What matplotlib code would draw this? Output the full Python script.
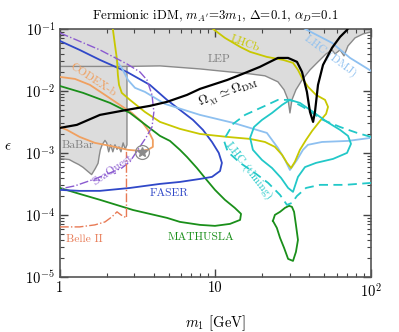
import matplotlib
matplotlib.use('Agg')
import matplotlib.pyplot as plt
from matplotlib.ticker import FixedLocator, FixedFormatter, LogLocator, NullFormatter

plt.rcParams['mathtext.fontset'] = 'cm'
plt.rcParams['font.family'] = 'serif'
plt.rcParams['font.serif'] = ['cmr10', 'DejaVu Serif']
plt.rcParams['axes.unicode_minus'] = False
plt.rcParams['axes.formatter.use_mathtext'] = True

# ---- data (m1 in GeV, epsilon) ----
lep_m = [1, 2.7, 4.4, 7.95, 12.4, 16.7, 20.8, 25.2, 27.6, 29.3, 30.1, 31.0, 32.9, 36.0,
         40.5, 45.6, 51.4, 56.1, 58.7, 63.2, 67.0, 71.1, 78.9, 88.9, 100]
lep_eps = [0.0248, 0.0248, 0.0253, 0.0226, 0.0202, 0.0188, 0.0175, 0.0140, 0.0104, 0.00716,
           0.00441, 0.00716, 0.0104, 0.0150, 0.0218, 0.0294, 0.0395, 0.0458, 0.0395, 0.0458,
           0.0367, 0.0532, 0.0716, 0.083, 0.0895]

babar_m = [2.7, 2.7, 2.63, 2.55, 2.47, 2.40, 2.33, 2.26, 2.19, 2.12, 2.06, 2.00, 1.95, 1.87,
           1.82, 1.79, 1.76, 1.69, 1.60, 1.50, 1.41, 1.32, 1.23, 1.15, 1.0]
babar_eps = [0.0248, 0.00135, 0.00114, 0.00145, 0.00104, 0.00125, 0.00114, 0.00135, 0.00104,
             0.00135, 0.00104, 0.00145, 0.00159, 0.00135, 0.00112, 0.00089, 0.00068, 0.00056,
             0.000447, 0.000512, 0.000585, 0.00065, 0.00071, 0.00078, 0.00081]

relic_m = [1, 1.286, 1.81, 2.70, 3.79, 4.88, 6.56, 7.95, 11.9, 15.5, 19.3, 22.4, 25.2, 29.3,
           33.4, 36.0, 38.7, 40.5, 42.4, 43.6, 45.6, 49.1, 56.1, 63.2, 70.1, 73.3]
relic_eps = [0.00253, 0.00283, 0.0041, 0.00494, 0.00573, 0.00665, 0.00861, 0.01077, 0.0150,
             0.0195, 0.0244, 0.0294, 0.034, 0.034, 0.0294, 0.0202, 0.00964, 0.00458, 0.00316,
             0.00458, 0.0125, 0.0262, 0.0494, 0.0743, 0.0963, 0.116]

lhcb_m = [2.19, 2.26, 2.33, 2.36, 2.40, 2.50, 2.82, 3.52, 4.40, 5.91, 7.95, 11.9, 16.7, 20.8,
          24.1, 26.8, 28.8, 30.6, 32.4, 34.9, 38.2, 41.8, 47.0, 51.4, 52.9, 50.6, 44.3, 39.4,
          36.0, 33.9, 31.5, 27.2, 21.4, 16.7, 14.4, 11.5, 9.64]
lhcb_eps = [0.1, 0.0552, 0.0316, 0.0181, 0.0125, 0.00929, 0.00716, 0.00458, 0.00316, 0.00244,
            0.00202, 0.00181, 0.00168, 0.00150, 0.00125, 0.00093, 0.00069, 0.00057, 0.00072,
            0.00112, 0.00162, 0.00226, 0.00328, 0.00426, 0.00552, 0.00716, 0.00861, 0.0116,
            0.0162, 0.0218, 0.0283, 0.0316, 0.0353, 0.0426, 0.0513, 0.0716, 0.1]

dmj1_m = [2.29, 2.33, 2.50, 2.74, 3.04, 3.52, 4.73, 7.95, 13.0, 21.4, 25.2, 28.0, 30.1, 33.4,
          36.5, 39.3, 48.4, 71.1, 100]
dmj1_eps = [0.0353, 0.0294, 0.0235, 0.0150, 0.0112, 0.00964, 0.00617, 0.0041, 0.00305, 0.0021,
            0.0012, 0.00077, 0.00053, 0.00077, 0.00112, 0.00135, 0.0015, 0.00156, 0.00175]
dmj2_m = [37.6, 56.1, 73.3, 100]
dmj2_eps = [0.1, 0.0595, 0.034, 0.021]

faser_m = [1, 1.34, 1.81, 2.70, 3.79, 4.88, 5.91, 7.17, 8.31, 9.50, 10.5, 11.0, 10.7, 9.50,
           7.95, 5.91, 4.40, 2.82, 1.81, 1.34, 1]
faser_eps = [0.064, 0.0458, 0.0316, 0.0202, 0.0125, 0.00716, 0.00494, 0.0034, 0.00235, 0.0015,
             0.001, 0.00069, 0.00051, 0.00041, 0.00038, 0.00034, 0.000316, 0.000272, 0.000244,
             0.000244, 0.000253]

math1_m = [1, 1.41, 2.10, 2.82, 3.63, 4.40, 5.10, 5.91, 6.56, 7.60, 8.56, 9.93, 11.5, 13.3,
           14.6, 14.4, 12.4, 9.93, 7.95, 5.91, 4.88, 2.95, 1.81, 1.34, 1]
math1_eps = [0.0120, 0.00929, 0.0064, 0.00441, 0.00272, 0.00188, 0.00156, 0.00112, 0.00086,
             0.00057, 0.000395, 0.000253, 0.000175, 0.00013, 0.000104, 8.3e-5, 7.16e-5, 6.65e-5,
             6.9e-5, 7.71e-5, 8.95e-5, 0.00012, 0.000175, 0.000218, 0.000272]
math2_m = [23.4, 24.1, 26.0, 28.0, 29.7, 31.0, 32.0, 32.9, 33.9, 32.9, 31.5, 29.3, 27.6, 26.0,
           24.8, 23.4]
math2_eps = [8.0e-5, 1e-4, 0.000112, 0.00013, 0.00014, 0.000135, 0.000112, 6.9e-5, 3.95e-5,
             2.53e-5, 1.81e-5, 1.95e-5, 2.94e-5, 4.26e-5, 6.17e-5, 8.0e-5]

codex_m = [1, 1.25, 1.56, 1.95, 2.43, 2.90, 3.37, 3.68, 3.96, 3.96, 3.68, 3.27, 2.74, 2.10,
           1.68, 1.34, 1.11, 1]
codex_eps = [0.0168, 0.0156, 0.0125, 0.00861, 0.00594, 0.00441, 0.00316, 0.00235, 0.00162,
             0.00125, 0.00112, 0.00108, 0.00112, 0.0013, 0.00145, 0.00181, 0.00235, 0.00262]

seaq_m = [1, 1.81, 2.70, 3.27, 3.63, 3.91, 4.02, 3.91, 3.57, 3.17, 2.82, 2.50, 2.10, 1.68,
          1.25, 1]
seaq_eps = [0.0862, 0.0458, 0.0272, 0.0202, 0.0150, 0.00861, 0.00458, 0.00262, 0.00175,
            0.00112, 0.00072, 0.00057, 0.000475, 0.00038, 0.000294, 0.000262]

belle_m = [1, 1.34, 1.68, 1.95, 2.16, 2.33, 2.47, 2.68, 2.68]
belle_eps = [6.4e-5, 6.4e-5, 6.9e-5, 7.7e-5, 9.3e-5, 0.000112, 0.000100, 8.95e-5, 0.00104]

tim_m = [30.1, 34.9, 42.4, 52.1, 63.2, 71.1, 74.3, 70.1, 57.0, 44.3, 37.6, 33.9, 31.5, 29.3,
         26.4, 23.1, 19.9, 17.4, 16.7, 17.7, 19.9, 23.1, 26.8, 30.1]
tim_eps = [0.00716, 0.0064, 0.00458, 0.00316, 0.00235, 0.00188, 0.0014, 0.001, 0.0008, 0.00069,
           0.00059, 0.00041, 0.000235, 0.000272, 0.000395, 0.00057, 0.00077, 0.00112, 0.00175,
           0.00262, 0.0034, 0.00441, 0.00594, 0.00716]

timd_m = [100, 81.3, 63.2, 49.1, 36.5, 30.1, 25.2, 20.8, 15.5, 13.0, 11.3, 12.0, 14.4, 17.9,
          21.8, 26.0, 28.8, 31.0, 33.4, 38.2, 47.0, 68.0, 100]
timd_eps = [0.00181, 0.0021, 0.00262, 0.0034, 0.00552, 0.00716, 0.00716, 0.00573, 0.0041,
            0.00294, 0.00162, 0.00104, 0.00069, 0.000475, 0.000328, 0.00021, 0.000145, 0.000156,
            0.000202, 0.000272, 0.000305, 0.000305, 0.000328]

star_m, star_eps = 3.35, 0.00104

# ---- plot ----
fig = plt.figure(figsize=(3.99, 3.32), dpi=100)
ax = fig.add_axes([0.150, 0.166, 0.780, 0.747])
ax.set_xscale('log')
ax.set_yscale('log')
ax.set_xlim(1, 100)
ax.set_ylim(1e-5, 1e-1)

grey_edge = '#8a8a8a'
# excluded region: top band (LEP) + BaBar on the left
top_m = lep_m[::-1][:-1]
top_eps = lep_eps[::-1][:-1]
poly_m = [1, 100] + top_m + babar_m + [1]
poly_eps = [1, 1] + top_eps + babar_eps + [1]
ax.fill(poly_m, poly_eps, color='#dcdcdc', lw=0, zorder=1)
ax.plot(lep_m, lep_eps, color=grey_edge, lw=1.0, zorder=2)
ax.plot(babar_m, babar_eps, color=grey_edge, lw=1.0, zorder=2)

lw = 1.3
ax.plot(codex_m, codex_eps, color='#f0a060', lw=lw, zorder=3)
ax.plot(math1_m, math1_eps, color='#1a8f1a', lw=lw, zorder=3)
ax.plot(math2_m, math2_eps, color='#1a8f1a', lw=lw, zorder=3)
ax.plot(faser_m, faser_eps, color='#3048c8', lw=lw, zorder=3)
ax.plot(dmj1_m, dmj1_eps, color='#8ec0f0', lw=lw, zorder=3)
ax.plot(dmj2_m, dmj2_eps, color='#8ec0f0', lw=lw, zorder=3)
ax.plot(lhcb_m, lhcb_eps, color='#c8c800', lw=lw, zorder=3)
ax.plot(tim_m, tim_eps, color='#22c8c8', lw=lw, zorder=3)
ax.plot(timd_m, timd_eps, color='#22c8c8', lw=lw, ls=(0, (5, 3)), zorder=3)
ax.plot(seaq_m, seaq_eps, color='#8a5ad0', lw=1.0, ls='-.', zorder=3)
ax.plot(belle_m, belle_eps, color='#e87a55', lw=1.0, ls='-.', zorder=3)
ax.plot(relic_m, relic_eps, color='black', lw=1.6, zorder=4)

ax.plot(star_m, star_eps, marker='o', ms=10, mfc='none', mec=grey_edge, mew=0.9, zorder=5)
ax.plot(star_m, star_eps, marker='*', ms=7, color=grey_edge, zorder=5)

fs = 8.3
ax.text(10.5, 0.0328, 'LEP', color='#808080', fontsize=fs, ha='center', va='center')
ax.text(1.31, 0.00135, 'BaBar', color='#808080', fontsize=fs, ha='center', va='center')
ax.text(1.63, 0.015, 'CODEX-b', color='#f0a060', fontsize=fs, ha='center', va='center', rotation=-33)
ax.text(15.5, 0.058, 'LHCb', color='#c8c800', fontsize=fs, ha='center', va='center', rotation=-20)
ax.text(55, 0.036, 'LHC (DMJ)', color='#8ec0f0', fontsize=fs, ha='center', va='center', rotation=-37)
ax.text(16.4, 0.00051, 'LHC (timing)', color='#22c8c8', fontsize=fs, ha='center', va='center', rotation=-52)
ax.text(5.02, 0.000226, 'FASER', color='#3048c8', fontsize=fs, ha='center', va='center')
ax.text(8.07, 4.42e-5, 'MATHUSLA', color='#1a8f1a', fontsize=fs, ha='center', va='center')
ax.text(2.19, 0.000532, 'SeaQuest', color='#8a5ad0', fontsize=fs, ha='center', va='center', rotation=35)
ax.text(1.43, 4.1e-5, 'Belle II', color='#e87a55', fontsize=fs, ha='center', va='center')
ax.text(12.2, 0.0092, r'$\Omega_{\chi_1}\simeq\Omega_{\rm DM}$', color='black', fontsize=9.5,
        ha='center', va='center', rotation=20)

ax.set_title(r"Fermionic iDM, $m_{A'}$=3$m_1$, $\Delta$=0.1, $\alpha_D$=0.1", fontsize=9.3, pad=7)
ax.set_xlabel(r'$m_1$ [GeV]', fontsize=10.5, labelpad=10)
ax.set_ylabel(r'$\epsilon$', fontsize=11, rotation=0, labelpad=12)

ax.xaxis.set_major_locator(FixedLocator([1, 10, 100]))
ax.xaxis.set_major_formatter(FixedFormatter(['1', '10', r'$10^2$']))
ax.xaxis.set_minor_locator(LogLocator(base=10, subs=range(2, 10)))
ax.xaxis.set_minor_formatter(NullFormatter())
ax.yaxis.set_minor_locator(LogLocator(base=10, subs=range(2, 10)))
ax.yaxis.set_minor_formatter(NullFormatter())
ax.tick_params(which='both', direction='in', top=True, right=True, colors='#444444',
               labelcolor='black', labelsize=10.5)
ax.tick_params(which='major', length=6, width=1.0)
ax.tick_params(which='minor', length=3, width=0.8)
for s in ax.spines.values():
    s.set_color('#555555')
    s.set_linewidth(1.2)

fig.savefig('out.png', dpi=100)
